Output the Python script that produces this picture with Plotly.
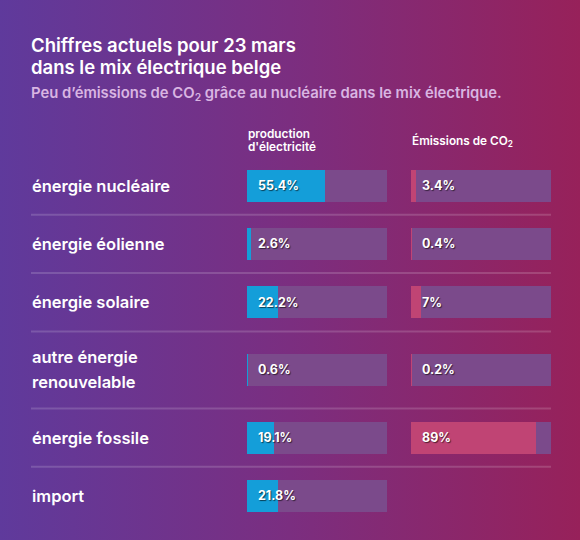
import base64
import plotly.graph_objects as go

# ---- data ----
categories = ["énergie nucléaire", "énergie éolienne", "énergie solaire",
              "autre énergie<br>renouvelable", "énergie fossile", "import"]
production = [55.4, 2.6, 22.2, 0.6, 19.1, 21.8]
emissions = [3.4, 0.4, 7, 0.2, 89, None]
title_lines = ["Chiffres actuels pour 23 mars", "dans le mix électrique belge"]
subtitle = "Peu d’émissions de CO<sub>2</sub> grâce au nucléaire dans le mix électrique."
col_prod = "production<br>d'électricité"
col_emis = "Émissions de CO<sub>2</sub>"

# ---- layout helpers (pixel coordinates on a 580x540 canvas) ----
W, H = 580, 540
FONT = "Inter"
TRACK = "#7b4a8b"
BLUE = "#149ed9"
PINK = "#c04474"

row_top = 156.5
heights = [58.3 + 18.7 * (c.count("<br>")) for c in categories]
centers, bounds = [], []
t = row_top
for h in heights:
    centers.append(t + h / 2)
    t += h
    bounds.append(t)
seps = bounds[:-1]

fig = go.Figure()

def add_column(values, color, xa):
    ys = [c for c, v in zip(centers, values) if v is not None]
    vals = [v for v in values if v is not None]
    fig.add_trace(go.Bar(x=[100] * len(vals), y=ys, orientation="h", width=32,
                         marker=dict(color=TRACK, line=dict(width=0)),
                         xaxis=xa, yaxis="y", hoverinfo="skip", showlegend=False))
    fig.add_trace(go.Bar(x=vals, y=ys, orientation="h", width=32,
                         marker=dict(color=color, line=dict(width=0)),
                         xaxis=xa, yaxis="y", showlegend=False))
    for y, v in zip(ys, vals):
        fig.add_annotation(x=0, y=y, xref=xa, yref="y", xanchor="left", yanchor="middle",
                           xshift=9, text=f"{v:g}%", showarrow=False,
                           font=dict(family=FONT, size=12.5, color="white", weight="bold",
                                     shadow="1px 1px 1px rgba(0,0,0,0.6)"))

add_column(production, BLUE, "x")
add_column(emissions, PINK, "x2")

def add_lines(text, x_px, y_center, gap, font):
    lines = text.split("<br>")
    n = len(lines)
    for i, ln in enumerate(lines):
        y = y_center + (i - (n - 1) / 2) * gap
        fig.add_annotation(x=x_px / W, y=y, xref="paper", yref="y", xanchor="left",
                           yanchor="middle", text=ln, showarrow=False, align="left", font=font)

label_font = dict(family=FONT, size=16.5, color="white", weight=600)
for c, y in zip(categories, centers):
    add_lines(c, 29.5, y, 25, label_font)

for s in seps:
    fig.add_shape(type="line", xref="paper", yref="y", x0=31 / W, x1=551 / W, y0=s, y1=s,
                  line=dict(color="rgba(255,255,255,0.16)", width=2), layer="below")

title_font = dict(family=FONT, size=18.5, color="white", weight=600)
add_lines("<br>".join(title_lines), 28.5, 55.5, 22, title_font)
add_lines(subtitle, 28.5, 93, 0, dict(family=FONT, size=14.8, color="#d9b5e2", weight=600))
head_font = dict(family=FONT, size=11.8, color="white", weight=600)
add_lines(col_prod, 245.5, 140.5, 12.5, head_font)
add_lines(col_emis, 409.5, 141, 0, head_font)

svg = ('<svg xmlns="http://www.w3.org/2000/svg" width="580" height="540" preserveAspectRatio="none">'
       '<defs><linearGradient id="g" x1="0" y1="0" x2="1" y2="0">'
       '<stop offset="0" stop-color="#5f3a9c"/><stop offset="0.5" stop-color="#7b2e80"/>'
       '<stop offset="1" stop-color="#97215a"/></linearGradient></defs>'
       '<rect width="580" height="540" fill="url(#g)"/></svg>')
src = "data:image/svg+xml;base64," + base64.b64encode(svg.encode()).decode()
fig.add_layout_image(source=src, xref="paper", yref="paper", x=0, y=1, sizex=1, sizey=1,
                     sizing="stretch", xanchor="left", yanchor="top", layer="below")

axis_off = dict(showgrid=False, zeroline=False, showticklabels=False, showline=False,
                fixedrange=True)
fig.update_layout(
    width=W, height=H, margin=dict(l=0, r=0, t=0, b=0),
    paper_bgcolor="#7b2e80", plot_bgcolor="rgba(0,0,0,0)",
    barmode="overlay", bargap=0,
    xaxis=dict(domain=[247 / W, 387 / W], range=[0, 100], anchor="y", **axis_off),
    xaxis2=dict(domain=[411 / W, 551 / W], range=[0, 100], anchor="y", **axis_off),
    yaxis=dict(domain=[0, 1], range=[H, 0], **axis_off),
    showlegend=False,
)

fig.write_html("out.html", config={"displayModeBar": False},
               post_script="document.body.style.margin='0';document.body.style.background='#7b2e80';")
